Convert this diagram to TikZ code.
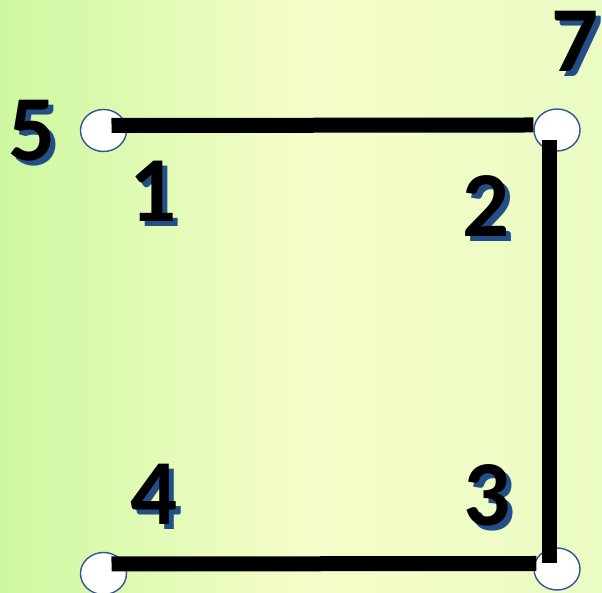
\documentclass[tikz,border=0pt]{standalone}
\usepackage{fontspec}
\usetikzlibrary{shapes.geometric}
\newfontfamily\numfont{Carlito}
\definecolor{edgeblue}{HTML}{2F5597}
\definecolor{shadeblue}{HTML}{234E86}
\definecolor{bgleft}{HTML}{CDF8A0}
\definecolor{bgmid}{HTML}{F5FDC9}
\definecolor{bgright}{HTML}{EAFBC3}
\newcommand{\shnum}[1]{\rlap{\kern5pt\raisebox{-5pt}{\color{shadeblue}#1}}#1}

\begin{document}
\begin{tikzpicture}[x=1pt,y=1pt, every node/.style={inner sep=0pt}, pin/.style={ellipse,draw=edgeblue,line width=1.4pt,fill=white,minimum width=46pt,minimum height=42pt}, num/.style={font=\numfont\bfseries\fontsize{93}{93}\selectfont}, wire/.style={line width=15pt,draw=black}]
\shade[left color=bgleft,right color=bgright,middle color=bgmid] (0,0) rectangle (602,593);
\useasboundingbox (0,0) rectangle (602,593);
\node[pin] (p5) at (103.5,462.5) {};
\node[pin] (p7) at (557,463) {};
\node[pin] (p3) at (557,24) {};
\node[pin] (p4) at (103.5,19.5) {};
\node[num] (n5) at (32,460) {\shnum{5}};
\node[num] (n1) at (153,399) {\shnum{1}};
\node[num] (n7) at (575,549) {\shnum{7}};
\node[num] (n2) at (486,384) {\shnum{2}};
\node[num] (n4) at (154,96) {\shnum{4}};
\node[num] (n3) at (487,95) {\shnum{3}};
\draw[wire] ([shift={(8pt,5pt)}]p5.center)--([yshift=5pt]p7.west);
\draw[wire] ([shift={(-7.5pt,-10pt)}]p7.center)--([shift={(-7.5pt,6pt)}]p3.center);
\draw[wire] ([shift={(8pt,9.5pt)}]p4.center)--([shift={(3pt,5.5pt)}]p3.west);
\end{tikzpicture}
\end{document}
